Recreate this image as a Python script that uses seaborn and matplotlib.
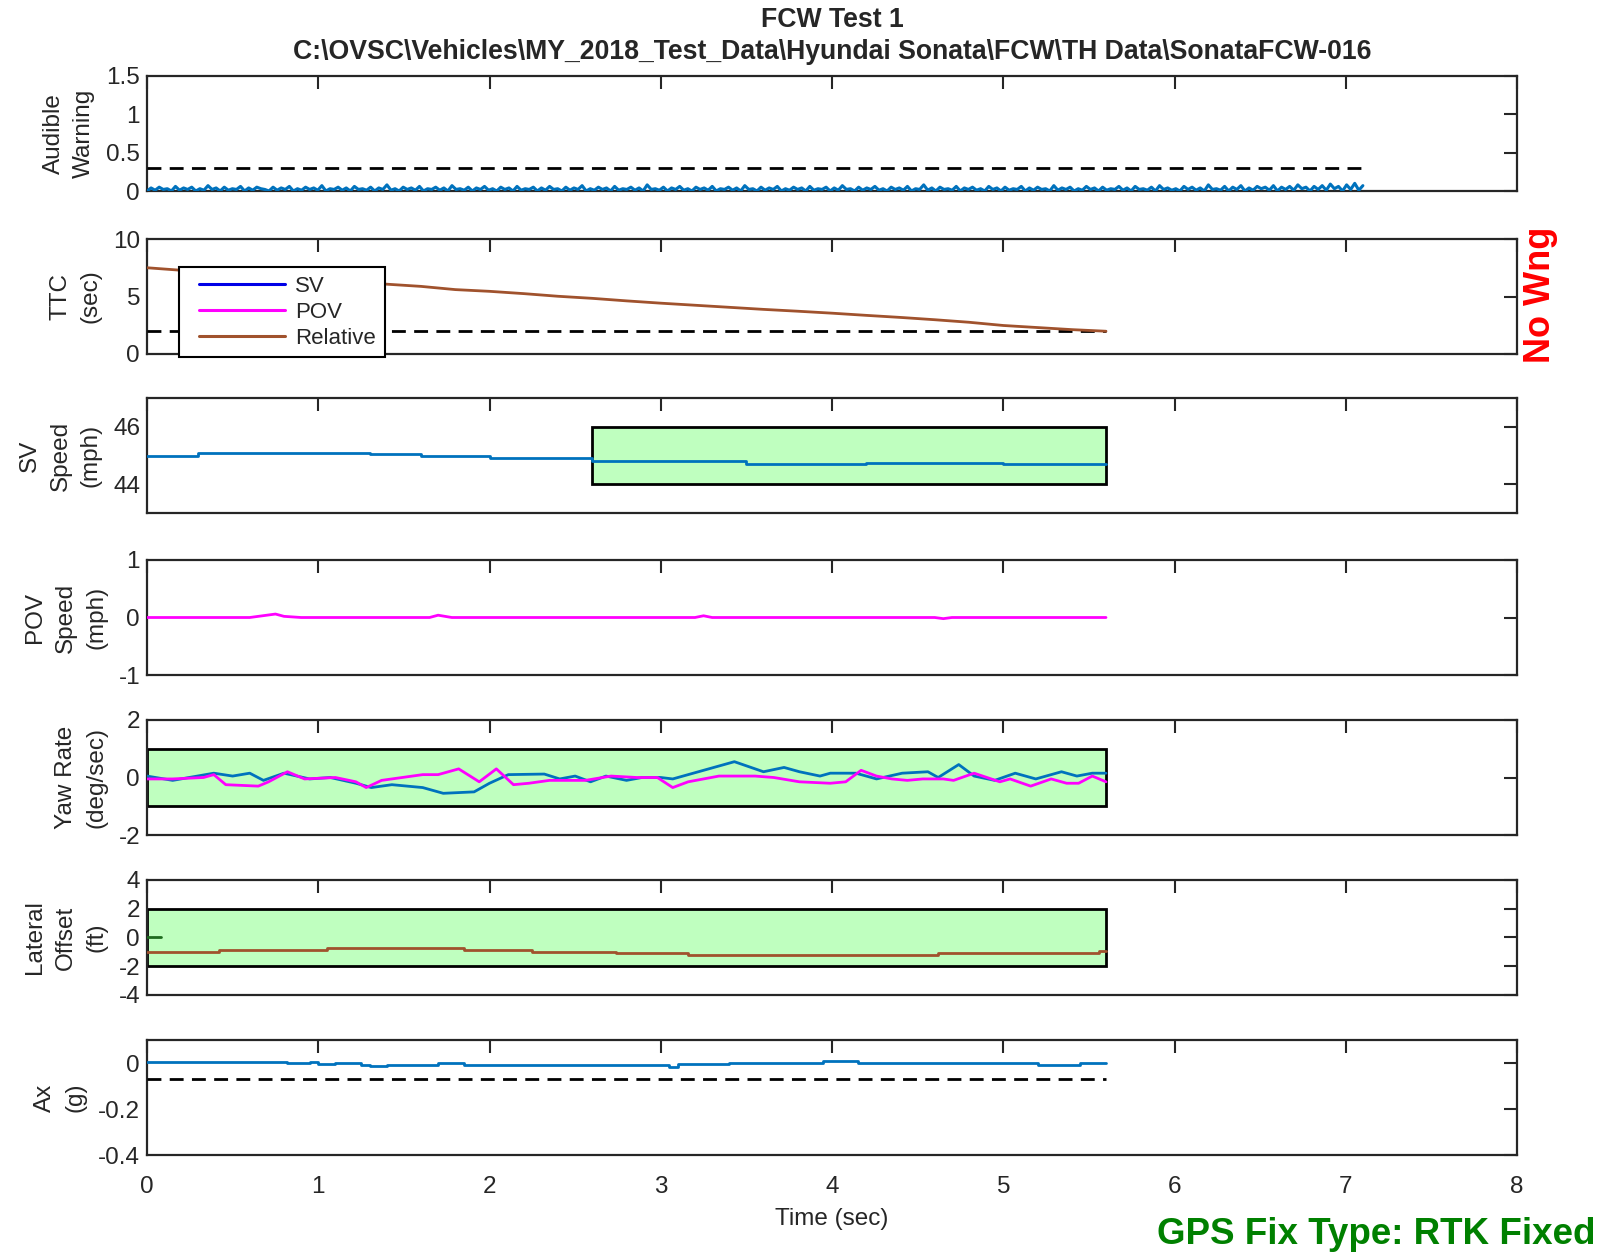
import numpy as np
import pandas as pd
import matplotlib
matplotlib.use("Agg")
import matplotlib.pyplot as plt
import seaborn as sns
from matplotlib.patches import Rectangle
from matplotlib.lines import Line2D
from matplotlib.legend_handler import HandlerLine2D
from matplotlib.ticker import FuncFormatter

# ---------------- data ----------------
# Audible warning channel (units of 0.01), uniformly sampled from 0 to audible_end
audible_end = 7.1
audible_raw = [
    0, 4, 1, 5, 2, 3, 0, 6, 1, 4, 2, 5, 0, 3, 1, 7, 2, 4, 0, 5, 1, 3, 2, 6, 0, 4, 1, 5, 3, 2,
    0, 5, 1, 4, 2, 6, 0, 3, 1, 5, 2, 4, 1, 7, 0, 3, 2, 5, 1, 4, 0, 6, 2, 3, 1, 5, 0, 4, 2, 8,
    1, 3, 0, 5, 2, 4, 1, 6, 0, 3, 2, 5, 1, 4, 0, 7, 2, 3, 1, 5, 0, 4, 2, 6, 1, 3, 0, 5, 2, 4,
    0, 6, 1, 3, 2, 5, 0, 4, 1, 6, 2, 3, 0, 5, 1, 4, 2, 7, 0, 3, 1, 5, 2, 4, 0, 6, 1, 3, 2, 5,
    1, 4, 0, 8, 2, 3, 1, 5, 0, 4, 2, 6, 1, 3, 0, 5, 2, 4, 1, 6, 0, 3, 2, 5, 1, 4, 0, 7, 2, 3,
    0, 5, 1, 4, 2, 6, 0, 3, 1, 5, 2, 4, 0, 6, 1, 3, 2, 5, 0, 4, 1, 7, 2, 3, 0, 5, 1, 4, 2, 6,
    1, 3, 0, 5, 2, 4, 1, 6, 0, 3, 2, 8, 1, 4, 0, 5, 2, 3, 1, 6, 0, 4, 2, 5, 1, 3, 0, 6, 2, 4,
    0, 5, 1, 3, 2, 6, 0, 4, 1, 5, 2, 3, 0, 7, 1, 4, 2, 5, 0, 3, 1, 6, 2, 4, 0, 5, 1, 3, 2, 6,
    1, 4, 0, 6, 2, 3, 1, 5, 0, 7, 2, 4, 1, 3, 0, 6, 2, 5, 1, 4, 0, 8, 2, 3, 1, 6, 0, 5, 2, 7,
    0, 4, 1, 6, 3, 5, 1, 7, 0, 5, 2, 6, 1, 8, 3, 5, 0, 6, 2, 7, 1, 9, 3, 6, 0, 8, 2, 10, 1, 7,
]
audible_threshold = 0.3

# Time to collision (relative), s
ttc_time = [0.0, 0.2, 0.4, 0.6, 0.8, 1.0, 1.2, 1.4, 1.6, 1.8, 2.0, 2.2, 2.4, 2.6, 2.8,
            3.0, 3.2, 3.4, 3.6, 3.8, 4.0, 4.2, 4.4, 4.6, 4.8, 5.0, 5.2, 5.4, 5.6]
ttc_relative = [7.50, 7.28, 7.05, 6.86, 6.66, 6.47, 6.27, 6.07, 5.88, 5.60, 5.45, 5.25, 5.02, 4.84, 4.62,
                4.42, 4.24, 4.06, 3.88, 3.72, 3.55, 3.36, 3.18, 2.98, 2.76, 2.48, 2.30, 2.12, 1.98]
ttc_threshold = 2.0

# Subject vehicle speed, mph
sv_speed_time = [0.0, 0.3, 1.3, 1.6, 2.0, 2.6, 3.5, 4.2, 5.0, 5.3, 5.6]
sv_speed = [45.00, 45.07, 45.04, 44.99, 44.93, 44.82, 44.72, 44.74, 44.72, 44.70, 44.72]
sv_speed_window = [2.6, 5.6, 44.0, 46.0]   # t0, t1, low, high

# Principal other vehicle speed, mph
pov_time = [0.0, 0.6, 0.7, 0.75, 0.8, 0.9, 1.65, 1.7, 1.78, 2.5, 3.2, 3.25, 3.3, 4.6, 4.65, 4.7, 5.6]
pov_speed = [0.0, 0.0, 0.04, 0.06, 0.02, 0.0, 0.0, 0.04, 0.0, 0.0, 0.0, 0.03, 0.0, 0.0, -0.02, 0.0, 0.0]

# Yaw rates, deg/s
yaw_sv_time = [0.0, 0.15, 0.39, 0.5, 0.6, 0.68, 0.8, 0.95, 1.07, 1.22, 1.31, 1.43, 1.61, 1.73, 1.91,
               2.0, 2.11, 2.32, 2.41, 2.5, 2.59, 2.68, 2.8, 2.89, 3.0, 3.07, 3.19, 3.43, 3.6, 3.72,
               3.81, 3.93, 3.99, 4.14, 4.26, 4.41, 4.56, 4.62, 4.74, 4.83, 4.95, 5.07, 5.19, 5.34,
               5.43, 5.52, 5.6]
yaw_sv = [0.05, -0.1, 0.15, 0.05, 0.15, -0.1, 0.15, -0.05, 0.0, -0.2, -0.35, -0.25, -0.35, -0.55, -0.5,
          -0.2, 0.1, 0.12, -0.05, 0.05, -0.15, 0.05, -0.1, 0.0, 0.0, -0.05, 0.15, 0.55, 0.2, 0.35,
          0.2, 0.05, 0.15, 0.15, -0.05, 0.15, 0.2, 0.0, 0.45, 0.05, -0.1, 0.15, -0.05, 0.2,
          0.05, 0.15, 0.15]
yaw_pov_time = [0.0, 0.15, 0.33, 0.39, 0.46, 0.65, 0.71, 0.82, 0.92, 1.1, 1.22, 1.28, 1.37, 1.49, 1.61,
                1.7, 1.82, 1.94, 2.04, 2.14, 2.23, 2.35, 2.56, 2.71, 2.86, 2.98, 3.07, 3.16, 3.34, 3.55,
                3.66, 3.81, 3.99, 4.08, 4.17, 4.26, 4.35, 4.44, 4.53, 4.65, 4.71, 4.83, 4.98, 5.04, 5.16,
                5.28, 5.37, 5.44, 5.52, 5.6]
yaw_pov = [-0.05, -0.05, 0.0, 0.1, -0.25, -0.3, -0.15, 0.2, -0.05, 0.0, -0.15, -0.35, -0.1, 0.0, 0.1,
           0.1, 0.3, -0.15, 0.3, -0.25, -0.2, -0.1, -0.1, 0.05, 0.0, 0.0, -0.35, -0.15, 0.05, 0.05,
           0.0, -0.15, -0.2, -0.15, 0.25, 0.05, -0.05, -0.1, -0.05, -0.05, -0.1, 0.15, -0.15, -0.05, -0.3,
           -0.05, -0.2, -0.2, 0.05, -0.15]
yaw_window = [0.0, 5.6, -1.0, 1.0]

# Lateral offset, ft
lat_time = [0.0, 0.42, 1.05, 1.85, 2.25, 2.74, 3.16, 4.62, 5.56, 5.6]
lat_offset = [-1.0, -0.85, -0.72, -0.87, -1.0, -1.07, -1.2, -1.08, -0.95, -0.95]
lat_start_time = [0.0, 0.08]
lat_start = [0.0, 0.0]
lat_window = [0.0, 5.6, -2.0, 2.0]

# Longitudinal acceleration, g
ax_time = [0.0, 0.82, 0.95, 1.0, 1.1, 1.25, 1.3, 1.4, 1.7, 1.85, 3.0, 3.05, 3.1, 3.4, 3.95, 4.15, 5.2, 5.45, 5.6]
ax_accel = [0.004, 0.0, 0.004, -0.003, 0.0, -0.008, -0.014, -0.007, 0.0, -0.007, -0.009, -0.017, -0.003,
            0.0, 0.007, 0.0, -0.01, 0.0, 0.0]
ax_threshold = -0.07

end_time = 5.6

# ---------------- style ----------------
sns.set_theme(style="white")
plt.rcParams["font.family"] = ["Liberation Sans", "DejaVu Sans"]
plt.rcParams["axes.edgecolor"] = "#262626"

C_SV = "#0072BD"
C_POV = "#FF00FF"
C_REL = "#A0522D"
C_BOX = "#BFFFBF"
FS = 17.5

W, H = 1610, 1258
fig = plt.figure(figsize=(W / 100, H / 100), dpi=100)

tops = [76, 239, 398, 560, 720, 880, 1040]
panel_h = 115
left_px, right_px = 147, 1517


def make_axes(top):
    return fig.add_axes([left_px / W, 1 - (top + panel_h) / H,
                         (right_px - left_px) / W, panel_h / H])


def style(ax, ylim, yticks, ylabel, xlabels=False):
    ax.set_xlim(0, 8)
    ax.set_ylim(*ylim)
    ax.set_xticks(range(9))
    ax.set_yticks(yticks)
    ax.yaxis.set_major_formatter(FuncFormatter(lambda v, p: f"{v:g}"))
    ax.tick_params(axis="both", direction="in", top=True, right=True, length=9.5,
                   width=1.5, labelsize=FS, colors="#262626", labelcolor="#262626")
    ax.tick_params(axis="y", pad=5)
    ax.tick_params(axis="x", pad=15, labelbottom=xlabels)
    for s in ax.spines.values():
        s.set_linewidth(1.6)
        s.set_color("#262626")
    ax.set_ylabel(ylabel, fontsize=FS, labelpad=8, color="#262626", linespacing=1.5)
    ax.set_xlabel("")
    ax.grid(False)


def window(ax, box):
    t0, t1, lo, hi = box
    ax.add_patch(Rectangle((t0, lo), t1 - t0, hi - lo, facecolor=C_BOX,
                           edgecolor="black", linewidth=2, zorder=1))


def threshold(ax, y, t1):
    ax.plot([0, t1], [y, y], color="black", lw=2, ls=(0, (5, 3)), zorder=3)


def line(ax, x, y, color, steps=False, lw=2):
    df = pd.DataFrame({"t": x, "v": y})
    sns.lineplot(data=df, x="t", y="v", ax=ax, color=color, lw=lw, estimator=None,
                 sort=False, drawstyle="steps-post" if steps else "default", zorder=4)


axs = [make_axes(t) for t in tops]

# 1 Audible warning
ax = axs[0]
aw = np.array(audible_raw) * 0.01
line(ax, np.linspace(0, audible_end, len(aw)), aw, C_SV, lw=2.2)
threshold(ax, audible_threshold, audible_end)
style(ax, (0, 1.5), [0, 0.5, 1, 1.5], "Audible\nWarning")

# 2 TTC
ax = axs[1]
line(ax, ttc_time, ttc_relative, C_REL)
threshold(ax, ttc_threshold, end_time)
style(ax, (0, 10), [0, 5, 10], "TTC\n(sec)")
handles = [Line2D([], [], color="#0000E6", lw=2.2),
           Line2D([], [], color=C_POV, lw=2.2),
           Line2D([], [], color=C_REL, lw=2.2)]
leg = ax.legend(handles, ["SV", "POV", "Relative"], loc="lower left",
                bbox_to_anchor=(0.023, -0.03), borderaxespad=0, fontsize=16,
                handlelength=4.4, handletextpad=0.45, labelspacing=0.22,
                handler_map={Line2D: HandlerLine2D(xpad=0.5)},
                frameon=True, fancybox=False, framealpha=1, borderpad=0.4)
leg.get_frame().set_edgecolor("black")
leg.get_frame().set_linewidth(1.5)
leg.set_zorder(10)

# 3 SV speed
ax = axs[2]
window(ax, sv_speed_window)
line(ax, sv_speed_time, sv_speed, C_SV, steps=True)
style(ax, (43, 47), [44, 46], "SV\nSpeed\n(mph)")

# 4 POV speed
ax = axs[3]
line(ax, pov_time, pov_speed, C_POV)
style(ax, (-1, 1), [-1, 0, 1], "POV\nSpeed\n(mph)")

# 5 Yaw rate
ax = axs[4]
window(ax, yaw_window)
line(ax, yaw_sv_time, yaw_sv, C_SV)
line(ax, yaw_pov_time, yaw_pov, C_POV)
style(ax, (-2, 2), [-2, 0, 2], "Yaw Rate\n(deg/sec)")

# 6 Lateral offset
ax = axs[5]
window(ax, lat_window)
line(ax, lat_start_time, lat_start, "#1E6B1E")
line(ax, lat_time, lat_offset, C_REL, steps=True)
style(ax, (-4, 4), [-4, -2, 0, 2, 4], "Lateral\nOffset\n(ft)")

# 7 Longitudinal acceleration
ax = axs[6]
line(ax, ax_time, ax_accel, C_SV, steps=True)
threshold(ax, ax_threshold, end_time)
style(ax, (-0.4, 0.1), [-0.4, -0.2, 0], "Ax\n(g)", xlabels=True)
ax.set_xlabel("Time (sec)", fontsize=FS, labelpad=7, color="#262626")

# titles and annotations
cx = (left_px + right_px) / 2 / W
fig.text(cx, 1 - 20 / H, "FCW Test 1", ha="center", va="center",
         fontsize=19.2, fontweight="bold")
fig.text(cx, 1 - 52 / H,
         r"C:\OVSC\Vehicles\MY_2018_Test_Data\Hyundai Sonata\FCW\TH Data\SonataFCW-016",
         ha="center", va="center", fontsize=19.2, fontweight="bold")
fig.text(1540 / W, 1 - 295 / H, "No Wng", rotation=90, ha="center", va="center",
         fontsize=26, fontweight="bold", color="#FF0000")
fig.text(1595 / W, 1 - 1235 / H, "GPS Fix Type: RTK Fixed", ha="right", va="center",
         fontsize=26.5, fontweight="bold", color="#008000")

fig.savefig("out.png", dpi=100, facecolor="white")
